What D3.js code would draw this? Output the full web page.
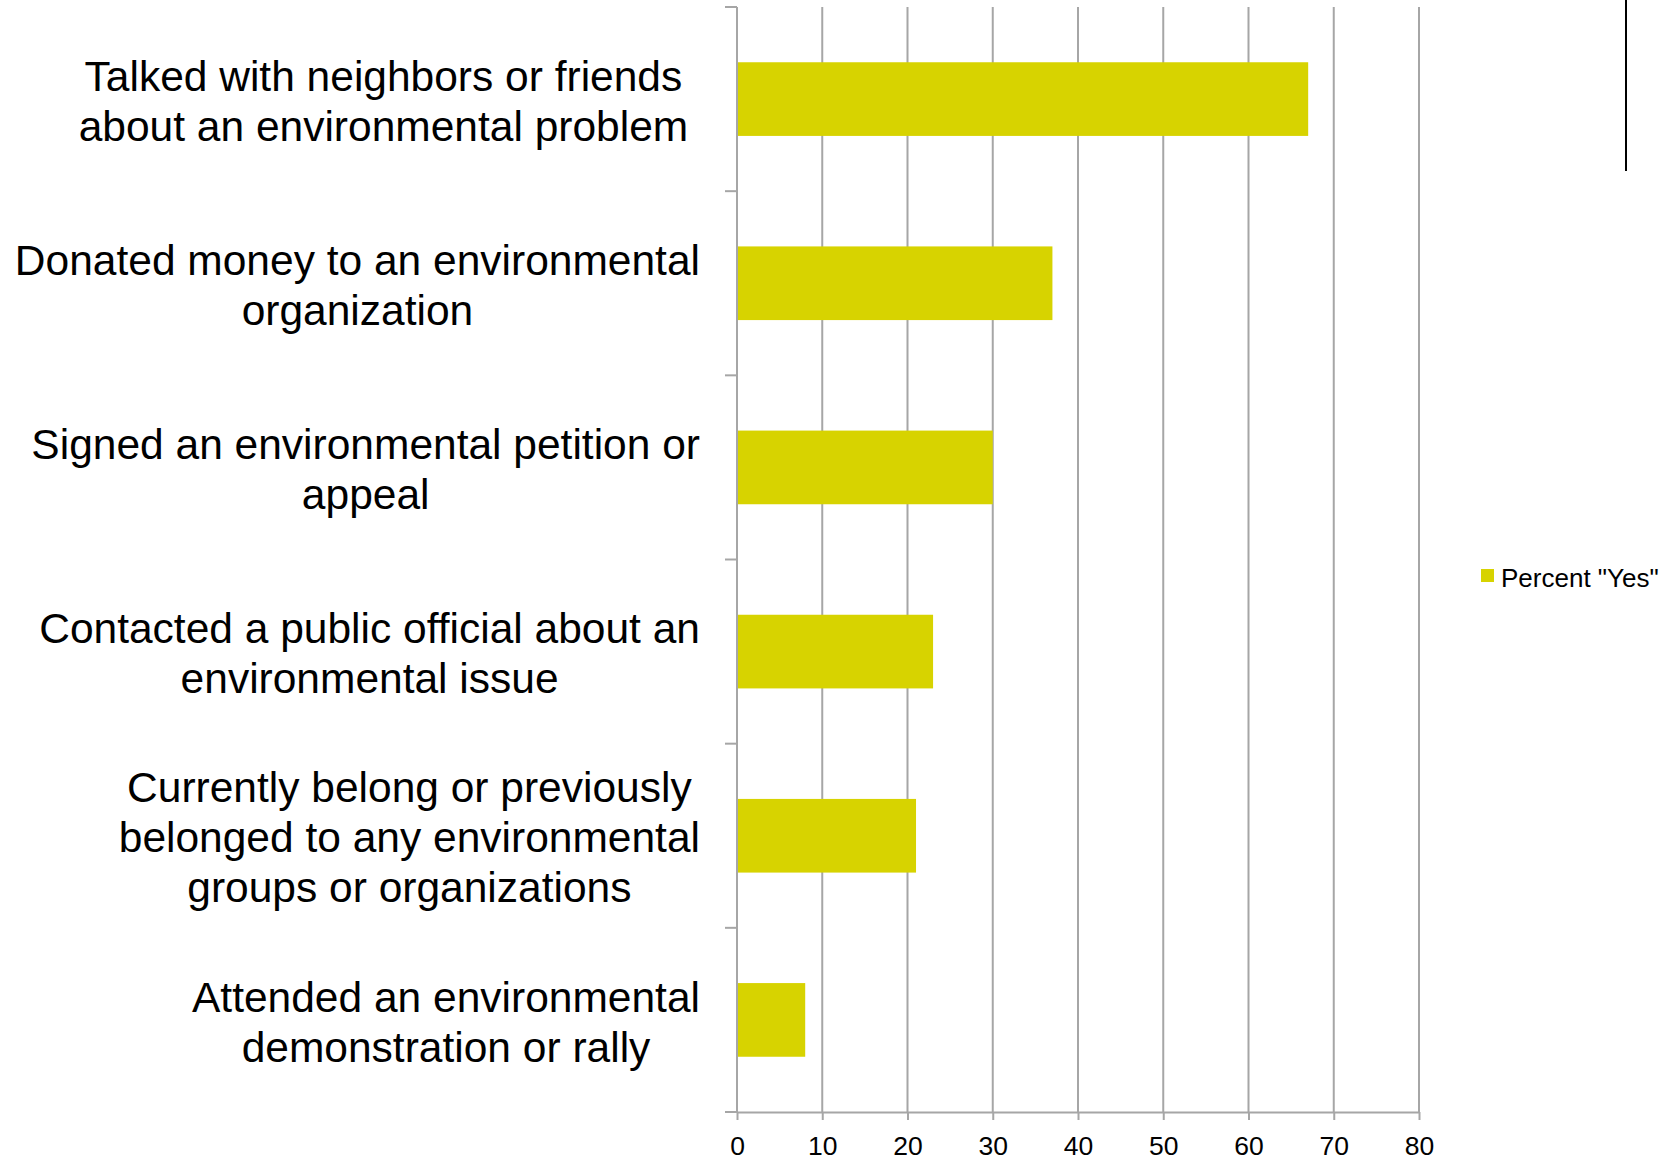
<!DOCTYPE html>
<html>
<head>
<meta charset="utf-8">
<script src="https://cdn.jsdelivr.net/npm/d3@7"></script>
<style>
  html, body { margin: 0; padding: 0; background: #fff; }
  svg { display: block; font-family: "Liberation Sans", Arial, sans-serif; }
  .cat text { white-space: pre; }
</style>
</head>
<body>
<svg id="chart" width="1664" height="1168"></svg>
<script>
// Survey activities, top to bottom, each wrapped into display lines
const categories = [
  ["Talked with neighbors or friends ", "about an environmental problem "],
  ["Donated money to an environmental", "organization"],
  ["Signed an environmental petition or", "appeal"],
  ["Contacted a public official about an", "environmental issue"],
  ["Currently belong or previously", "belonged to any environmental", "groups or organizations"],
  ["Attended an environmental", "demonstration or rally"]
];
const percentYes = [67, 37, 30, 23, 21, 8];
const xTicks = [0, 10, 20, 30, 40, 50, 60, 70, 80];
const seriesName = 'Percent "Yes"';

const svg = d3.select("#chart");
const plot = { left: 737, right: 1419, top: 7, bottom: 1112 };
const barColor = "#d7d300";
const gridColor = "#a6a6a6";

const x = d3.scaleLinear().domain([0, 80]).range([plot.left, plot.right]);
const y = d3.scaleBand()
  .domain(d3.range(categories.length))
  .range([plot.top, plot.bottom])
  .paddingInner(0.6)
  .paddingOuter(0.3);
const boundary = d3.scaleLinear().domain([0, categories.length]).range([plot.top, plot.bottom]);

// vertical gridlines
svg.append("g").selectAll("line").data(xTicks.slice(1)).join("line")
  .attr("x1", d => x(d)).attr("x2", d => x(d))
  .attr("y1", plot.top).attr("y2", plot.bottom)
  .attr("stroke", gridColor).attr("stroke-width", 2);

// bars
svg.append("g").selectAll("rect").data(percentYes).join("rect")
  .attr("x", x(0))
  .attr("y", (d, i) => y(i))
  .attr("width", d => x(d) - x(0))
  .attr("height", y.bandwidth())
  .attr("fill", barColor);

// category axis line and boundary ticks
const axisG = svg.append("g");
axisG.append("line")
  .attr("x1", x(0)).attr("x2", x(0))
  .attr("y1", plot.top).attr("y2", plot.bottom)
  .attr("stroke", gridColor).attr("stroke-width", 2);
axisG.selectAll("line.bt").data(d3.range(categories.length + 1)).join("line")
  .attr("class", "bt")
  .attr("x1", x(0) - 12).attr("x2", x(0))
  .attr("y1", d => boundary(d)).attr("y2", d => boundary(d))
  .attr("stroke", gridColor).attr("stroke-width", 2);

// value axis along the bottom
const xAxis = svg.append("g").attr("transform", `translate(0,${plot.bottom})`)
  .call(d3.axisBottom(x).tickValues(xTicks).tickSize(8).tickPadding(16).tickSizeOuter(0));
xAxis.select(".domain").attr("stroke", gridColor).attr("stroke-width", 2);
xAxis.selectAll(".tick line").attr("stroke", gridColor).attr("stroke-width", 2);
xAxis.selectAll(".tick text")
  .attr("fill", "#000")
  .style("font-size", "26.5px")
  .style("font-family", '"Liberation Sans", Arial, sans-serif');

// category labels: centered lines, block right-aligned beside the axis
const labelRight = 700;
const lineH = 50;
const fontSize = 42.5;
const capH = fontSize * 0.716;
const catG = svg.append("g").attr("class", "cat");
categories.forEach((lines, i) => {
  const cy = y(i) + y.bandwidth() / 2;
  const t = catG.append("text")
    .attr("text-anchor", "middle")
    .attr("font-size", fontSize)
    .attr("fill", "#000");
  const spans = lines.map((ln, k) => t.append("tspan").text(ln));
  const widths = spans.map(s => s.node().getComputedTextLength());
  const blockW = d3.max(widths);
  const cx = labelRight - blockW / 2;
  const firstBase = cy - ((lines.length - 1) * lineH) / 2 + capH / 2 + 1.5;
  spans.forEach((s, k) => s.attr("x", cx).attr("y", firstBase + k * lineH));
});

// legend
const lg = svg.append("g").attr("transform", "translate(1481,569)");
lg.append("rect").attr("width", 13).attr("height", 13).attr("fill", barColor);
lg.append("text").attr("x", 20).attr("y", 18)
  .attr("font-size", 26).attr("fill", "#000").text(seriesName);

// black rule at top right
svg.append("line")
  .attr("x1", 1626).attr("x2", 1626).attr("y1", 0).attr("y2", 171)
  .attr("stroke", "#000").attr("stroke-width", 2);
</script>
</body>
</html>
